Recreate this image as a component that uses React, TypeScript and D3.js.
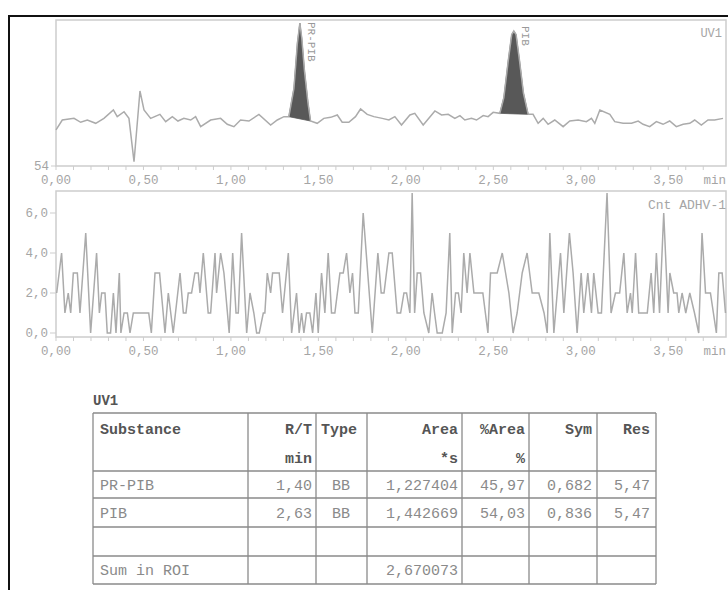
import * as d3 from "d3";

// UV1 trace (min, signal)
const UV_TIME = [
  0.0, 0.036, 0.103, 0.141, 0.179, 0.227, 0.274, 0.328, 0.35, 0.389, 0.417, 0.446, 0.48, 0.503,
  0.541, 0.594, 0.627, 0.665, 0.697, 0.731, 0.77, 0.798, 0.827, 0.884, 0.941, 0.979, 1.017, 1.055,
  1.103, 1.16, 1.227, 1.265, 1.303, 1.331, 1.36, 1.38, 1.394, 1.405, 1.42, 1.44, 1.455, 1.493,
  1.531, 1.57, 1.608, 1.636, 1.674, 1.712, 1.741, 1.779, 1.817, 1.865, 1.903, 1.937, 1.975, 2.023,
  2.051, 2.099, 2.166, 2.204, 2.242, 2.28, 2.309, 2.337, 2.375, 2.404, 2.442, 2.47, 2.499, 2.537,
  2.56, 2.585, 2.605, 2.617, 2.63, 2.65, 2.672, 2.699, 2.727, 2.756, 2.785, 2.813, 2.851, 2.899,
  2.937, 2.985, 3.032, 3.061, 3.08, 3.109, 3.166, 3.194, 3.242, 3.29, 3.328, 3.356, 3.394, 3.432,
  3.47, 3.508, 3.546, 3.585, 3.623, 3.651, 3.689, 3.727, 3.765, 3.813,
];
const UV_VALUE = [
  57.95, 59.04, 59.22, 58.79, 59.04, 58.68, 59.22, 60.14, 59.41, 59.95, 59.22, 54.47, 62.22, 60.14,
  59.22, 59.66, 58.86, 59.41, 58.93, 59.22, 59.04, 59.41, 58.31, 59.04, 59.22, 58.57, 58.31, 59.04,
  58.93, 59.66, 58.49, 59.04, 59.41, 59.41, 62.5, 67.5, 69.67, 68.0, 64.5, 61.0, 58.93, 58.68,
  59.22, 59.33, 59.59, 58.79, 58.79, 59.41, 60.25, 59.66, 59.41, 59.22, 59.04, 59.41, 58.49, 59.59,
  59.77, 58.49, 60.03, 59.59, 59.66, 59.22, 59.52, 59.04, 59.22, 59.04, 59.52, 59.41, 59.88, 59.77,
  61.5, 65.5, 68.4, 68.79, 68.4, 65.5, 62.0, 59.66, 59.66, 58.68, 59.22, 58.57, 59.04, 58.31,
  58.93, 59.04, 58.86, 59.22, 58.68, 60.14, 59.66, 58.86, 58.68, 58.68, 58.93, 58.57, 58.31, 58.86,
  58.57, 58.93, 58.31, 58.57, 58.68, 59.04, 58.49, 59.04, 59.04, 59.22,
];

// integrated peaks
const PEAK_NAMES = ["PR-PIB", "PIB"];
const PEAK_START = [1.331, 2.537];
const PEAK_END = [1.455, 2.699];
const PEAK_APEX = [1.394, 2.617];

// Cnt ADHV-1 trace (min, counts)
const CNT_TIME = [
  0.004, 0.032, 0.051, 0.07, 0.084, 0.099, 0.122, 0.137, 0.17, 0.198, 0.232, 0.248, 0.261, 0.28,
  0.293, 0.312, 0.328, 0.343, 0.362, 0.371, 0.389, 0.408, 0.423, 0.442, 0.53, 0.545, 0.566, 0.592,
  0.623, 0.642, 0.67, 0.709, 0.728, 0.743, 0.756, 0.775, 0.794, 0.813, 0.823, 0.842, 0.87, 0.884,
  0.909, 0.918, 0.941, 0.96, 0.99, 1.01, 1.029, 1.042, 1.061, 1.09, 1.109, 1.131, 1.147, 1.162,
  1.185, 1.194, 1.208, 1.227, 1.238, 1.276, 1.295, 1.328, 1.347, 1.375, 1.39, 1.404, 1.417, 1.432,
  1.451, 1.467, 1.486, 1.499, 1.518, 1.537, 1.556, 1.575, 1.594, 1.623, 1.642, 1.661, 1.68, 1.695,
  1.709, 1.728, 1.756, 1.808, 1.84, 1.859, 1.875, 1.903, 1.922, 1.95, 1.97, 1.989, 2.004, 2.023,
  2.036, 2.05, 2.065, 2.084, 2.103, 2.131, 2.15, 2.164, 2.179, 2.208, 2.23, 2.251, 2.265, 2.284,
  2.3, 2.316, 2.331, 2.35, 2.366, 2.389, 2.417, 2.44, 2.469, 2.484, 2.522, 2.551, 2.57, 2.589,
  2.613, 2.636, 2.665, 2.693, 2.722, 2.76, 2.79, 2.808, 2.823, 2.846, 2.884, 2.903, 2.935, 2.956,
  2.979, 3.002, 3.017, 3.04, 3.061, 3.074, 3.099, 3.118, 3.15, 3.173, 3.198, 3.222, 3.246, 3.265,
  3.284, 3.294, 3.313, 3.331, 3.38, 3.402, 3.417, 3.432, 3.45, 3.474, 3.499, 3.509, 3.531, 3.55,
  3.56, 3.579, 3.6, 3.623, 3.65, 3.674, 3.693, 3.713, 3.741, 3.775, 3.789, 3.808, 3.827,
];
const CNT_VALUE = [
  2, 4, 1, 2, 1, 3, 3, 1, 5, 0, 4, 1, 2, 2,
  0, 0, 2, 0, 3, 0, 1, 1, 0, 1, 1, 0, 3, 3,
  0, 2, 0, 3, 1, 1, 2, 2, 3, 3, 2, 4, 1, 1,
  4, 2, 4, 3, 0, 4, 1, 1, 5, 0, 2, 1, 0, 0,
  1, 1, 3, 2, 3, 3, 1, 4, 0, 2, 0, 1, 0, 1,
  1, 0, 2, 0, 3, 1, 4, 1, 1, 3, 3, 4, 2, 3,
  1, 1, 6, 0, 4, 2, 2, 4, 4, 1, 1, 2, 2, 1,
  7, 1, 3, 3, 1, 0, 2, 1, 0, 0, 1, 5, 0, 2,
  2, 1, 4, 2, 4, 2, 2, 2, 0, 3, 3, 4, 3, 2,
  0, 1, 3, 4, 2, 2, 1, 0, 5, 0, 4, 1, 5, 3,
  0, 3, 1, 3, 1, 3, 1, 1, 7, 1, 2, 2, 4, 1,
  2, 1, 4, 1, 1, 3, 1, 4, 1, 6, 1, 3, 2, 2,
  1, 2, 1, 2, 1, 0, 5, 2, 2, 0, 3, 3, 1,
];

const X_LABELS = [0, 0.5, 1, 1.5, 2, 2.5, 3, 3.5];
const CNT_TICKS = [0, 2, 4, 6];

// results table
const TABLE_HEAD1 = ["Substance", "R/T", "Type", "Area", "%Area", "Sym", "Res"];
const TABLE_HEAD2 = ["", "min", "", "*s", "%", "", ""];
const SUBSTANCES = ["PR-PIB", "PIB", "", "Sum in ROI"];
const RT = ["1,40", "2,63", "", ""];
const TYPES = ["BB", "BB", "", ""];
const AREAS = ["1,227404", "1,442669", "", "2,670073"];
const AREA_PCT = ["45,97", "54,03", "", ""];
const SYM = ["0,682", "0,836", "", ""];
const RES = ["5,47", "5,47", "", ""];

const MONO = "'Liberation Mono', 'DejaVu Sans Mono', monospace";
const LINE = "#ababab";
const FRAME = "#cdcdcd";
const LABEL = "#a5a5a5";

const loc = d3.formatLocale({ decimal: ",", thousands: ".", grouping: [3], currency: ["", ""] });
const f2 = loc.format(".2f");
const f1 = loc.format(".1f");

const x = d3.scaleLinear().domain([0, 3.83]).range([56, 726]);
const yUv = d3.scaleLinear().domain([54, 70]).range([166, 20]);
const yCnt = d3.scaleLinear().domain([-0.2, 7.1]).range([337, 191]);

function XAxis({ y0 }: { y0: number }) {
  const minor = d3.range(0, 38).map((i) => i / 10);
  return (
    <g>
      {minor.map((t) => (
        <line key={t} x1={x(t)} x2={x(t)} y1={y0} y2={y0 + 4} stroke={FRAME} />
      ))}
      {X_LABELS.map((t) => (
        <text key={t} x={x(t)} y={y0 + 18} textAnchor="middle" fontSize={12.5} fill={LABEL} fontFamily={MONO}>
          {f2(t)}
        </text>
      ))}
      <text x={726} y={y0 + 18} textAnchor="end" fontSize={12.5} fill={LABEL} fontFamily={MONO}>min</text>
    </g>
  );
}

export default function App() {
  const uvPts = UV_TIME.map((t, i) => [t, UV_VALUE[i]] as [number, number]);
  const cntPts = CNT_TIME.map((t, i) => [t, CNT_VALUE[i]] as [number, number]);
  const uvLine = d3.line<[number, number]>().x((d) => x(d[0])).y((d) => yUv(d[1]));
  const cntLine = d3.line<[number, number]>().x((d) => x(d[0])).y((d) => yCnt(d[1]));

  const cols = [93, 248, 316, 367, 462, 529, 597, 656];
  const rows = [413, 471, 498, 527, 556, 584];
  const anchorX = [100, 312, 341, 458, 525, 592, 650];
  const anchors = ["start", "end", "middle", "end", "end", "end", "end"];
  const dataCols = [SUBSTANCES, RT, TYPES, AREAS, AREA_PCT, SYM, RES];

  return (
    <div style={{ position: "absolute", left: 0, top: 0 }}>
      <svg width={728} height={590} style={{ display: "block", background: "#fff" }}>
        <rect x={9} y={16} width={740} height={600} fill="none" stroke="#111" strokeWidth={2} />

        {/* UV1 chromatogram */}
        <rect x={56} y={20} width={670} height={146} fill="none" stroke={FRAME} strokeWidth={1.5} />
        {PEAK_NAMES.map((name, i) => {
          const pts = uvPts.filter((d) => d[0] >= PEAK_START[i] && d[0] <= PEAK_END[i]);
          return <path key={name} d={uvLine(pts) + "Z"} fill="#585858" stroke="#585858" strokeWidth={0.8} />;
        })}
        <path d={uvLine(uvPts) ?? ""} fill="none" stroke={LINE} strokeWidth={1.5} />
        {PEAK_NAMES.map((name, i) => (
          <text
            key={name}
            transform={`translate(${x(PEAK_APEX[i]) + 8},${i === 0 ? 22 : 26}) rotate(90)`}
            fontSize={11}
            fill="#999"
            fontFamily={MONO}
          >
            {name}
          </text>
        ))}
        <line x1={51} x2={56} y1={yUv(54)} y2={yUv(54)} stroke={FRAME} />
        <text x={49} y={yUv(54) + 4} textAnchor="end" fontSize={12.5} fill={LABEL} fontFamily={MONO}>54</text>
        <text x={722} y={37} textAnchor="end" fontSize={12} fill={LABEL} fontFamily={MONO}>UV1</text>
        <XAxis y0={166} />

        {/* Cnt ADHV-1 */}
        <rect x={56} y={191} width={670} height={146} fill="none" stroke={FRAME} strokeWidth={1.5} />
        <path d={cntLine(cntPts) ?? ""} fill="none" stroke={LINE} strokeWidth={1.5} />
        {CNT_TICKS.map((v) => (
          <g key={v}>
            <line x1={50} x2={56} y1={yCnt(v)} y2={yCnt(v)} stroke={FRAME} />
            <text x={48} y={yCnt(v) + 4} textAnchor="end" fontSize={12.5} fill={LABEL} fontFamily={MONO}>
              {f1(v)}
            </text>
          </g>
        ))}
        <text x={726} y={209} textAnchor="end" fontSize={13} fill={LABEL} fontFamily={MONO}>Cnt ADHV-1</text>
        <XAxis y0={337} />

        {/* table */}
        <text x={93} y={405} fontSize={14} fontWeight="bold" fill="#555" fontFamily={MONO}>UV1</text>
        {rows.map((r) => (
          <line key={r} x1={cols[0]} x2={cols[7]} y1={r} y2={r} stroke="#8a8a8a" strokeWidth={1.3} />
        ))}
        {cols.map((c) => (
          <line key={c} x1={c} x2={c} y1={rows[0]} y2={rows[5]} stroke="#8a8a8a" strokeWidth={1.3} />
        ))}
        {TABLE_HEAD1.map((h, j) => (
          <g key={h} fontFamily={MONO} fontSize={15} fontWeight="bold" fill="#555">
            <text x={anchorX[j] - (j === 2 ? 2 : 0)} y={434} textAnchor={anchors[j] as any}>{h}</text>
            <text x={anchorX[j]} y={463} textAnchor={anchors[j] as any}>{TABLE_HEAD2[j]}</text>
          </g>
        ))}
        {SUBSTANCES.map((s, i) => (
          <g key={i} fontFamily={MONO} fontSize={15} fill="#8a8a8a">
            {dataCols.map((col, j) => (
              <text key={j} x={anchorX[j]} y={(rows[i + 1] + rows[i + 2]) / 2 + 5} textAnchor={anchors[j] as any}>
                {col[i]}
              </text>
            ))}
          </g>
        ))}
      </svg>
    </div>
  );
}
